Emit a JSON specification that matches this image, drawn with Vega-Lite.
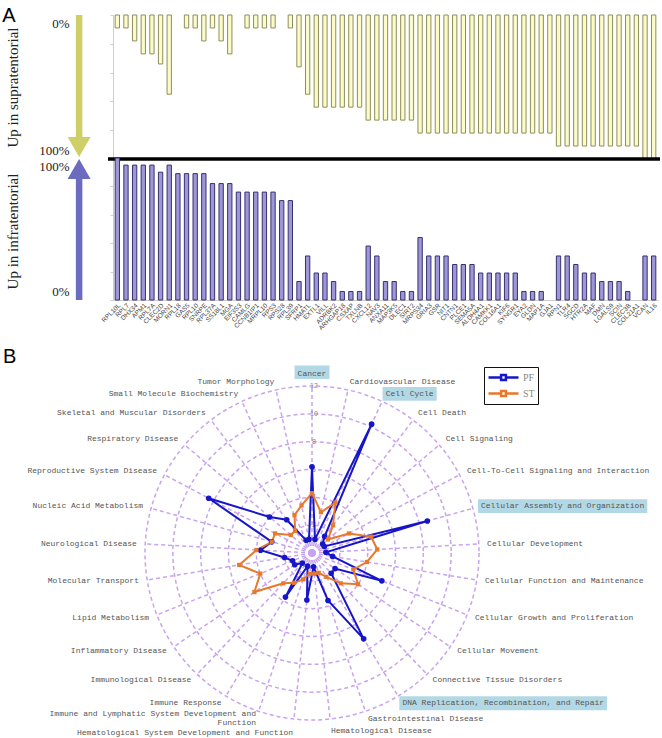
{
"$schema": "https://vega.github.io/schema/vega-lite/v6.json",
"width": 662, "height": 738,
"autosize": {"type": "none"},
"padding": 0,
"background": "white",
"config": {"view": {"stroke": null}, "axis": {"grid": false}},
"datasets": {
"genes": [
{"gene":"RPL10L","supra":9,"infra":100},{"gene":"RPL7","supra":9,"infra":95},{"gene":"DHX34","supra":18,"infra":95},{"gene":"APM1","supra":27,"infra":95},{"gene":"RPL7A","supra":27,"infra":95},{"gene":"CLEC2D","supra":34,"infra":90},{"gene":"MORN1","supra":55,"infra":95},{"gene":"RPL18","supra":0,"infra":89},{"gene":"GAS5","supra":9,"infra":89},{"gene":"RPL10","supra":9,"infra":89},{"gene":"SNRPE","supra":18,"infra":89},{"gene":"RPL37A","supra":9,"infra":82},{"gene":"SS18L1","supra":18,"infra":82},{"gene":"MGA","supra":27,"infra":82},{"gene":"EIF3S3","supra":0,"infra":76},{"gene":"CAMLG","supra":9,"infra":76},{"gene":"CCNB1IP1","supra":9,"infra":76},{"gene":"MRPL10","supra":9,"infra":76},{"gene":"RPS3","supra":9,"infra":76},{"gene":"RPS28","supra":0,"infra":70},{"gene":"RPL39","supra":9,"infra":70},{"gene":"SFRP1","supra":36,"infra":13},{"gene":"HMATL","supra":55,"infra":31},{"gene":"EXTL1","supra":64,"infra":19},{"gene":"VILL","supra":64,"infra":19},{"gene":"ADRBK2","supra":64,"infra":13},{"gene":"ARHGAP18","supra":64,"infra":6},{"gene":"CSXAP","supra":64,"infra":6},{"gene":"TXLNB","supra":64,"infra":6},{"gene":"CXCL12","supra":73,"infra":38},{"gene":"NAV3","supra":73,"infra":31},{"gene":"ANXA11","supra":73,"infra":13},{"gene":"MAP3K5","supra":73,"infra":13},{"gene":"DLEC1","supra":73,"infra":6},{"gene":"SIRT2","supra":73,"infra":6},{"gene":"MRPS34","supra":82,"infra":44},{"gene":"GRIA3","supra":82,"infra":31},{"gene":"GSR","supra":82,"infra":31},{"gene":"NIT1","supra":82,"infra":31},{"gene":"CNTN1","supra":82,"infra":25},{"gene":"PLCE1","supra":82,"infra":25},{"gene":"SEMA5A","supra":82,"infra":25},{"gene":"ALDH4A1","supra":82,"infra":19},{"gene":"CAMKK1","supra":82,"infra":19},{"gene":"COL16A1","supra":82,"infra":19},{"gene":"KIF6","supra":82,"infra":19},{"gene":"SYNGR1","supra":82,"infra":19},{"gene":"EYA2","supra":82,"infra":6},{"gene":"GLDN","supra":82,"infra":6},{"gene":"MAP1A","supra":82,"infra":6},{"gene":"GJA1","supra":82,"infra":0},{"gene":"RPN1","supra":91,"infra":31},{"gene":"TLR4","supra":91,"infra":31},{"gene":"SGCD","supra":91,"infra":25},{"gene":"HTR2A","supra":91,"infra":19},{"gene":"MAF","supra":91,"infra":19},{"gene":"DMN","supra":91,"infra":13},{"gene":"LGALS9","supra":91,"infra":13},{"gene":"SCIN","supra":91,"infra":13},{"gene":"CLEC3B","supra":91,"infra":6},{"gene":"COL21A1","supra":91,"infra":0},{"gene":"VCAN","supra":100,"infra":31},{"gene":"IL16","supra":100,"infra":31}
],
"radar": [
{"cat":"Cancer","i":0,"PF":6.2,"ST":4.3},
{"cat":"Cardiovascular Disease","i":1,"PF":1.0,"ST":3.0},
{"cat":"Cell Cycle","i":2,"PF":10.2,"ST":4.0},
{"cat":"Cell Death","i":3,"PF":1.5,"ST":2.5},
{"cat":"Cell Signaling","i":4,"PF":1.0,"ST":1.5},
{"cat":"Cell-To-Cell Signaling and Interaction","i":5,"PF":1.0,"ST":3.0},
{"cat":"Cellular Assembly and Organization","i":6,"PF":8.6,"ST":4.4},
{"cat":"Cellular Development","i":7,"PF":1.0,"ST":4.7},
{"cat":"Cellular Function and Maintenance","i":8,"PF":1.5,"ST":4.0},
{"cat":"Cellular Growth and Proliferation","i":9,"PF":5.4,"ST":3.2},
{"cat":"Cellular Movement","i":10,"PF":2.0,"ST":4.0},
{"cat":"Connective Tissue Disorders","i":11,"PF":2.0,"ST":3.0},
{"cat":"DNA Replication, Recombination, and Repair","i":12,"PF":7.2,"ST":2.0},
{"cat":"Gastrointestinal Disease","i":13,"PF":3.6,"ST":1.5},
{"cat":"Hematological Disease","i":14,"PF":1.0,"ST":1.5},
{"cat":"Hematological System Development and Function","i":15,"PF":3.4,"ST":1.5},
{"cat":"Immune and Lymphatic System Development and Function","i":16,"PF":1.0,"ST":2.0},
{"cat":"Immune Response","i":17,"PF":3.7,"ST":2.5},
{"cat":"Immunological Disease","i":18,"PF":1.0,"ST":3.0},
{"cat":"Inflammatory Disease","i":19,"PF":1.5,"ST":5.0},
{"cat":"Lipid Metabolism","i":20,"PF":1.5,"ST":4.0},
{"cat":"Molecular Transport","i":21,"PF":2.0,"ST":5.3},
{"cat":"Neurological Disease","i":22,"PF":3.7,"ST":4.0},
{"cat":"Nucleic Acid Metabolism","i":23,"PF":3.0,"ST":3.0},
{"cat":"Reproductive System Disease","i":24,"PF":8.4,"ST":3.0},
{"cat":"Respiratory Disease","i":25,"PF":4.0,"ST":2.0},
{"cat":"Skeletal and Muscular Disorders","i":26,"PF":3.0,"ST":2.0},
{"cat":"Small Molecule Biochemistry","i":27,"PF":1.0,"ST":3.0},
{"cat":"Tumor Morphology","i":28,"PF":1.0,"ST":3.5}
],
"grid": [{"r":2},{"r":4},{"r":6},{"r":8},{"r":10},{"r":12}]
},
"layer": [
{
 "data": {"name": "genes"},
 "layer": [
  {"transform": [{"filter": "datum.supra > 0"}],
   "mark": {"type": "bar", "fill": "#fbfbca", "stroke": "#8e8e5c", "strokeWidth": 1},
   "encoding": {
    "x": {"field": "gene", "type": "nominal", "sort": null, "scale": {"domain": {"data": "genes", "field": "gene"}, "range": [113, 658], "paddingInner": 0.5, "paddingOuter": 0.25}, "axis": null},
    "y": {"field": "supra", "type": "quantitative", "scale": {"domain": [0, 100], "range": [15, 159]},
     "axis": {"orient": "left", "offset": -113, "values": [0, 20, 40, 60, 80, 100], "labelExpr": "datum.value == 0 || datum.value == 100 ? datum.label + '%' : ''", "labelOverlap": false, "labelFlush": true, "labelFlushOffset": -2, "labelPadding": 41, "labelFont": "Liberation Serif", "labelFontSize": 13, "labelColor": "#222", "domainColor": "#cccccc", "tickColor": "#cccccc", "tickSize": 3, "title": "Up in supratentorial", "titleFont": "Liberation Serif", "titleFontSize": 15, "titleFontWeight": "normal", "titleColor": "#222", "titleAngle": -90, "titleBaseline": "middle", "titleX": -101, "titleY": 87}}
   }},
  {"data": {"values": [{"k": 1}]}, "mark": {"type": "rule", "stroke": "black", "strokeWidth": 3.5},
   "encoding": {
    "x": {"datum": 0, "type": "quantitative", "scale": {"domain": [0, 1], "range": [108, 660]}, "axis": null},
    "x2": {"datum": 1},
    "y": {"datum": 100, "type": "quantitative"}
   }},
  {"data": {"values": [{"k": 1}]}, "mark": {"type": "rule", "stroke": "#cfcf68", "strokeWidth": 6.5},
   "encoding": {
    "x": {"datum": 0.7, "type": "quantitative", "scale": {"domain": [0, 1], "range": [0, 113]}, "axis": null},
    "y": {"datum": 0, "type": "quantitative"}, "y2": {"datum": 86}
   }},
  {"data": {"values": [{"k": 1}]}, "mark": {"type": "point", "shape": "M-1,-0.87L1,-0.87L0,0.87Z", "size": 529, "filled": true, "color": "#cfcf68", "opacity": 1},
   "encoding": {
    "x": {"datum": 0.7, "type": "quantitative", "scale": {"domain": [0, 1], "range": [0, 113]}, "axis": null},
    "y": {"datum": 91.7, "type": "quantitative"}
   }},
  {"data": {"values": [{"t": "A"}]}, "mark": {"type": "text", "font": "Liberation Sans", "fontSize": 20, "align": "left", "baseline": "alphabetic", "color": "black"},
   "encoding": {
    "x": {"datum": 0.02, "type": "quantitative", "scale": {"domain": [0, 1], "range": [0, 113]}, "axis": null},
    "y": {"datum": 5, "type": "quantitative"},
    "text": {"field": "t", "type": "nominal"}
   }}
 ],
 "resolve": {"scale": {"x": "independent"}}
},
{
 "data": {"name": "genes"},
 "layer": [
  {"mark": {"type": "bar", "fill": "#9d97d8", "stroke": "#363170", "strokeWidth": 1},
   "encoding": {
    "x": {"field": "gene", "type": "nominal", "sort": null, "scale": {"range": [113, 658], "paddingInner": 0.5, "paddingOuter": 0.25},
     "axis": {"orient": "bottom", "offset": -438, "title": null, "labelAngle": -45, "labelFont": "Liberation Sans", "labelFontSize": 6.5, "labelColor": "#444", "labelPadding": 2, "ticks": false, "domainColor": "#cccccc", "labelOverlap": false}},
    "y": {"field": "infra", "type": "quantitative", "scale": {"domain": [0, 100], "range": [300, 158]},
     "axis": {"orient": "left", "offset": -113, "values": [0, 20, 40, 60, 80, 100], "labelExpr": "datum.value == 0 || datum.value == 100 ? datum.label + '%' : ''", "labelOverlap": false, "labelFlush": true, "labelFlushOffset": -2, "labelPadding": 41, "labelFont": "Liberation Serif", "labelFontSize": 13, "labelColor": "#222", "domainColor": "#cccccc", "tickColor": "#cccccc", "tickSize": 3, "title": "Up in infratentorial", "titleFont": "Liberation Serif", "titleFontSize": 15, "titleFontWeight": "normal", "titleColor": "#222", "titleAngle": -90, "titleBaseline": "middle", "titleX": -101, "titleY": 231}},
    "opacity": {"condition": {"test": "datum.infra > 0", "value": 1}, "value": 0}
   }},
  {"data": {"values": [{"k": 1}]}, "mark": {"type": "rule", "stroke": "#6b6bbf", "strokeWidth": 6.5},
   "encoding": {
    "x": {"datum": 0.7, "type": "quantitative", "scale": {"domain": [0, 1], "range": [0, 113]}, "axis": null},
    "y": {"datum": 0, "type": "quantitative"}, "y2": {"datum": 87}
   }},
  {"data": {"values": [{"k": 1}]}, "mark": {"type": "point", "shape": "M-1,0.87L1,0.87L0,-0.87Z", "size": 529, "filled": true, "color": "#6b6bbf", "opacity": 1},
   "encoding": {
    "x": {"datum": 0.7, "type": "quantitative", "scale": {"domain": [0, 1], "range": [0, 113]}, "axis": null},
    "y": {"datum": 92.3, "type": "quantitative"}
   }}
 ],
 "resolve": {"scale": {"x": "independent"}}
},
{
 "data": {"name": "radar"},
 "layer": [
  {"data": {"name": "grid"},
   "mark": {"type": "point", "shape": "circle", "filled": false, "color": "#c9a3ee", "strokeWidth": 1.5, "strokeDash": [4, 3], "opacity": 1},
   "encoding": {
    "x": {"datum": 0, "type": "quantitative", "scale": {"domain": [-12, 12], "range": [145, 479]}, "axis": null},
    "y": {"datum": 0, "type": "quantitative", "scale": {"domain": [-12, 12], "range": [720, 386]}, "axis": null},
    "size": {"field": "r", "type": "quantitative", "scale": {"type": "pow", "exponent": 2, "domain": [0, 12], "range": [0, 111556]}, "legend": null}
   }},
  {"transform": [{"calculate": "2*PI*datum.i/29", "as": "a"}, {"calculate": "12*sin(datum.a)", "as": "ex"}, {"calculate": "12*cos(datum.a)", "as": "ey"}, {"calculate": "0", "as": "zero"}],
   "mark": {"type": "rule", "color": "#c9a3ee", "strokeWidth": 1.5, "strokeDash": [4, 3]},
   "encoding": {
    "x": {"field": "zero", "type": "quantitative", "scale": {"domain": [-12, 12], "range": [145, 479]}, "axis": null},
    "y": {"field": "zero", "type": "quantitative", "scale": {"domain": [-12, 12], "range": [720, 386]}, "axis": null},
    "x2": {"field": "ex"}, "y2": {"field": "ey"}
   }},
  {"data": {"name": "grid"},
   "mark": {"type": "text", "font": "Liberation Sans", "fontSize": 7, "color": "#888", "align": "center", "baseline": "middle", "dx": 2},
   "encoding": {
    "x": {"datum": 0, "type": "quantitative", "scale": {"domain": [-12, 12], "range": [145, 479]}, "axis": null},
    "y": {"field": "r", "type": "quantitative", "scale": {"domain": [-12, 12], "range": [720, 386]}, "axis": null},
    "text": {"field": "r", "type": "quantitative"}
   }},
  {"transform": [{"filter": "indexof(['Cancer','Cell Cycle','Cellular Assembly and Organization','DNA Replication, Recombination, and Repair'], datum.cat) >= 0"}, {"calculate": "2*PI*datum.i/29", "as": "a"}, {"calculate": "12.6*sin(datum.a)", "as": "lx"}, {"calculate": "12.6*cos(datum.a)", "as": "ly"}, {"calculate": "length(datum.cat)*0.345", "as": "w"}, {"calculate": "datum.i == 0 ? -datum.w/2 - 0.22 : datum.lx - 0.22", "as": "bx1"}, {"calculate": "datum.i == 0 ? datum.w/2 + 0.22 : datum.lx + datum.w + 0.22", "as": "bx2"}, {"calculate": "datum.i == 0 ? datum.ly - 0.1 : datum.ly - 0.5", "as": "by1"}, {"calculate": "datum.i == 0 ? datum.ly + 0.88 : datum.ly + 0.5", "as": "by2"}],
   "mark": {"type": "rect", "color": "#b3d8e5"},
   "encoding": {
    "x": {"field": "bx1", "type": "quantitative", "scale": {"domain": [-12, 12], "range": [145, 479]}, "axis": null},
    "y": {"field": "by1", "type": "quantitative", "scale": {"domain": [-12, 12], "range": [720, 386]}, "axis": null},
    "x2": {"field": "bx2"}, "y2": {"field": "by2"}
   }},
  {"transform": [{"calculate": "2*PI*datum.i/29", "as": "a"}, {"calculate": "12.6*sin(datum.a)", "as": "lx"}, {"calculate": "12.6*cos(datum.a)", "as": "ly"}, {"calculate": "datum.i == 16 ? split(replace(datum.cat, 'and Function', 'and|Function'), '|') : datum.cat", "as": "lab"}, {"calculate": "datum.i == 16 ? datum.ly + 0.4 : (datum.i == 15 ? datum.ly - 0.15 : datum.ly)", "as": "ly2"}],
   "mark": {"type": "text", "font": "Liberation Mono", "fontSize": 8, "color": "#555", "lineHeight": 9, "align": {"expr": "datum.i == 0 ? 'center' : (datum.i <= 14 ? 'left' : 'right')"}, "baseline": {"expr": "datum.i == 0 ? 'bottom' : (abs(datum.i - 14.5) < 1 ? 'top' : 'middle')"}},
   "encoding": {
    "x": {"field": "lx", "type": "quantitative", "scale": {"domain": [-12, 12], "range": [145, 479]}, "axis": null},
    "y": {"field": "ly2", "type": "quantitative", "scale": {"domain": [-12, 12], "range": [720, 386]}, "axis": null},
    "text": {"field": "lab"}
   }},
  {"transform": [{"fold": ["PF", "ST"], "as": ["series", "value"]}, {"calculate": "2*PI*datum.i/29", "as": "a"}, {"calculate": "datum.value*sin(datum.a)", "as": "px"}, {"calculate": "datum.value*cos(datum.a)", "as": "py"}],
   "mark": {"type": "line", "interpolate": "linear-closed", "strokeWidth": 2},
   "encoding": {
    "x": {"field": "px", "type": "quantitative", "scale": {"domain": [-12, 12], "range": [145, 479]}, "axis": null},
    "y": {"field": "py", "type": "quantitative", "scale": {"domain": [-12, 12], "range": [720, 386]}, "axis": null},
    "order": {"field": "i", "type": "quantitative"},
    "color": {"field": "series", "type": "nominal", "scale": {"domain": ["PF", "ST"], "range": ["#1616c8", "#e8792b"]},
     "legend": {"orient": "none", "legendX": 484, "legendY": 367, "title": null, "strokeColor": "#111", "padding": 3, "labelFont": "Liberation Serif", "labelFontSize": 10, "labelColor": "#888", "symbolType": "M-2.5,0H-0.4M0.4,0H2.5M-0.4,-0.4H0.4V0.4H-0.4Z", "symbolSize": 144, "symbolOffset": 9, "symbolStrokeWidth": 2.5, "rowPadding": 1, "labelOffset": 12}}
   }},
  {"transform": [{"calculate": "2*PI*datum.i/29", "as": "a"}, {"calculate": "datum.PF*sin(datum.a)", "as": "px"}, {"calculate": "datum.PF*cos(datum.a)", "as": "py"}],
   "mark": {"type": "point", "shape": "circle", "filled": true, "color": "#1616c8", "size": 32, "opacity": 1},
   "encoding": {
    "x": {"field": "px", "type": "quantitative", "scale": {"domain": [-12, 12], "range": [145, 479]}, "axis": null},
    "y": {"field": "py", "type": "quantitative", "scale": {"domain": [-12, 12], "range": [720, 386]}, "axis": null}
   }},
  {"transform": [{"calculate": "2*PI*datum.i/29", "as": "a"}, {"calculate": "datum.ST*sin(datum.a)", "as": "px"}, {"calculate": "datum.ST*cos(datum.a)", "as": "py"}],
   "mark": {"type": "point", "shape": "square", "filled": true, "color": "#e8792b", "size": 18, "opacity": 1},
   "encoding": {
    "x": {"field": "px", "type": "quantitative", "scale": {"domain": [-12, 12], "range": [145, 479]}, "axis": null},
    "y": {"field": "py", "type": "quantitative", "scale": {"domain": [-12, 12], "range": [720, 386]}, "axis": null}
   }},
  {"data": {"values": [{"t": "B"}]}, "mark": {"type": "text", "font": "Liberation Sans", "fontSize": 20, "align": "left", "baseline": "alphabetic", "color": "black"},
   "encoding": {
    "x": {"datum": -22.2, "type": "quantitative", "scale": {"domain": [-12, 12], "range": [145, 479]}, "axis": null},
    "y": {"datum": 13.65, "type": "quantitative", "scale": {"domain": [-12, 12], "range": [720, 386]}, "axis": null},
    "text": {"field": "t", "type": "nominal"}
   }}
 ]
}
],
"resolve": {"scale": {"x": "independent", "y": "independent"}}
}
